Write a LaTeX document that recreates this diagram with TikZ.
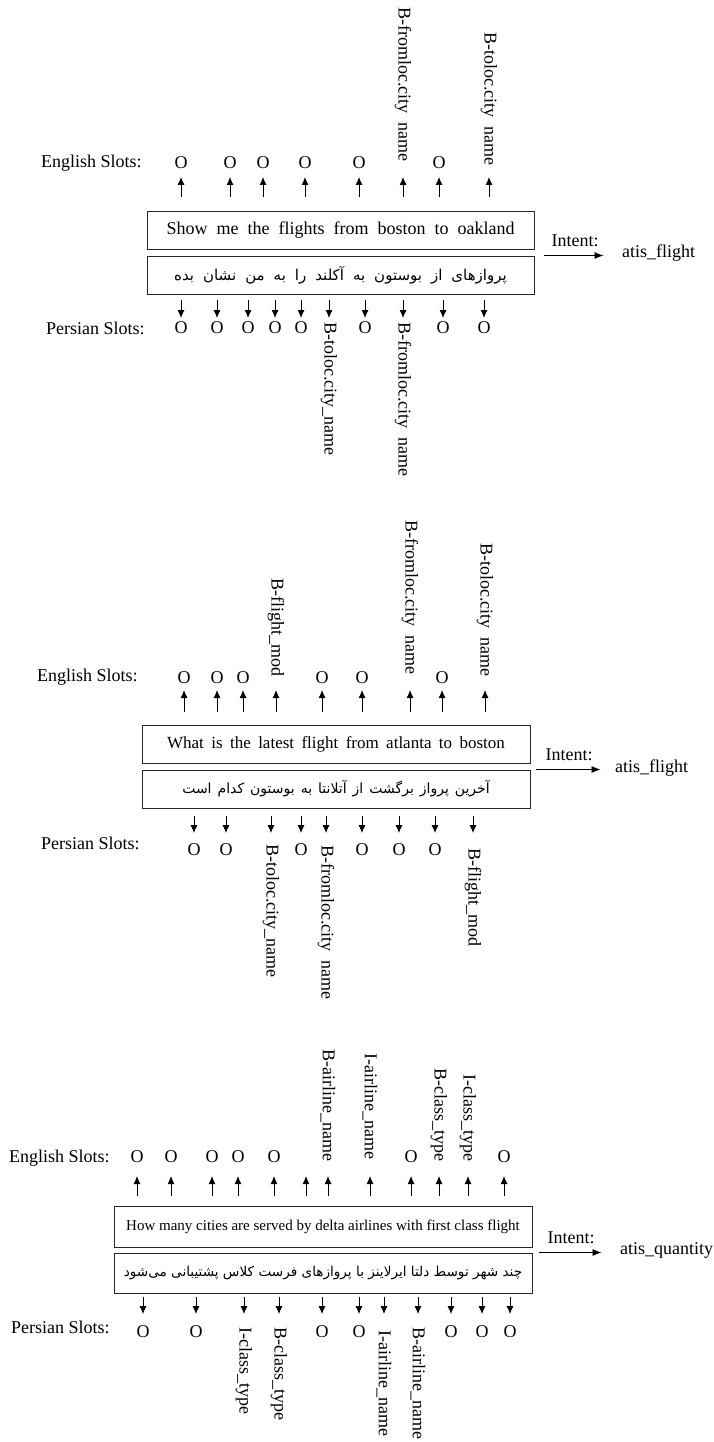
\documentclass[tikz,border=0pt]{standalone}
\usepackage{fontspec}
\setmainfont{Liberation Serif}
\newfontfamily\persianfont[Script=Arabic]{DejaVu Sans}
\TeXXeTstate=1
\usetikzlibrary{arrows.meta, positioning}

\tikzset{
  lbl/.style={font=\fontsize{18}{20}\selectfont, inner sep=0pt},
  tagup/.style={lbl, rotate=-90, anchor=east},
  tagdn/.style={lbl, rotate=-90, anchor=west},
  sent/.style={draw=black!85, line width=1pt, inner sep=0pt},
  uparr/.style={line width=.9pt, -{Latex[length=8pt,width=7pt]}},
  dnarr/.style={line width=.9pt, -{Latex[length=8pt,width=7pt]}},
  intarr/.style={line width=.9pt, -{Latex[length=9pt,width=7pt]}},
}

\begin{document}
\begin{tikzpicture}[x=1pt, y=-1pt]
\useasboundingbox (0,0) rectangle (713,1442);

% ===== show me the flights =====
\node[lbl, anchor=west] (enA) at (41,163) {English Slots:};
\foreach \x [count=\i] in {181,230,263,305,359,439}
  \node[lbl] (oA\i) at (\x,163) {O};
\node[tagup] (tA1) at (403,162) {B-fromloc.city\ \ name};
\node[tagup] (tA2) at (489,166) {B-toloc.city\ \ name};
\foreach \x [count=\i] in {181,230,263,305,359,403,439,489}{
  \coordinate (uA\i) at (\x,197);
  \draw[uparr] (uA\i) -- ++(0,-20);
}

\node[sent, minimum width=387pt, minimum height=38pt, font=\fontsize{18}{20}\selectfont]
  (sA) at (340.5,230) {\spaceskip=9pt Show me the flights from boston to oakland};
\node[sent, minimum width=387pt, minimum height=38pt, font=\persianfont\fontsize{15}{17}\selectfont]
  (fA) at (340.5,275) {\spaceskip=9pt\beginR پروازهای از بوستون به آکلند را به من نشان بده\endR};

\node[lbl] (iA) at (575,241) {Intent:};
\node[lbl, anchor=west] (gA) at (622,253) {atis\_flight};
\draw[intarr] ([xshift=9pt]fA.north east) -- ++(60,0);

\node[lbl, anchor=west] (pA) at (46,328) {Persian Slots:};
\foreach \x [count=\i] in {181,217,248,275,301,365,443,484}
  \node[lbl] (qA\i) at (\x,328) {O};
\node[tagdn] (rA1) at (329,322) {B-toloc.city\_name};
\node[tagdn] (rA2) at (403,322) {B-fromloc.city\ \ name};
\foreach \x [count=\i] in {181,217,248,275,301,329,365,403,443,484}{
  \coordinate (dA\i) at (\x,300);
  \draw[dnarr] (dA\i) -- ++(0,18);
}

% ===== what is the latest flight =====
\node[lbl, anchor=west] (enB) at (37,677) {English Slots:};
\foreach \x [count=\i] in {184,217,243,322,362,442}
  \node[lbl] (oB\i) at (\x,678) {O};
\node[tagup] (tB1) at (276,677) {B-flight\_mod};
\node[tagup] (tB2) at (410,675) {B-fromloc.city\ \ name};
\node[tagup] (tB3) at (485,677) {B-toloc.city\ \ name};
\foreach \x [count=\i] in {184,217,243,276,322,362,410,442,485}{
  \coordinate (uB\i) at (\x,712);
  \draw[uparr] (uB\i) -- ++(0,-22);
}

\node[sent, minimum width=388pt, minimum height=38pt, font=\fontsize{17}{19}\selectfont]
  (sB) at (336,744) {\spaceskip=7.4pt What is the latest flight from atlanta to boston};
\node[sent, minimum width=388pt, minimum height=38pt, font=\persianfont\fontsize{14}{16}\selectfont]
  (fB) at (336,789) {\spaceskip=6pt\beginR آخرین پرواز برگشت از آتلانتا به بوستون کدام است\endR};

\node[lbl] (iB) at (569,755) {Intent:};
\node[lbl, anchor=west] (gB) at (615,768) {atis\_flight};
\draw[intarr] ([xshift=5pt]fB.north east) -- ++(65,0);

\node[lbl, anchor=west] (pB) at (41,843) {Persian Slots:};
\foreach \x [count=\i] in {194,226,301,362,399,435}
  \node[lbl] (qB\i) at (\x,850) {O};
\node[tagdn] (rB1) at (271,844) {B-toloc.city\_name};
\node[tagdn] (rB2) at (326,845) {B-fromloc.city\ \ name};
\node[tagdn] (rB3) at (473,848) {B-flight\_mod};
\foreach \x [count=\i] in {194,226,271,301,326,362,399,435,473}{
  \coordinate (dB\i) at (\x,816);
  \draw[dnarr] (dB\i) -- ++(0,17);
}

% ===== how many cities =====
\node[lbl, anchor=west] (enC) at (9,1158) {English Slots:};
\foreach \x [count=\i] in {137,171,212,238,274,411,504}
  \node[lbl] (oC\i) at (\x,1157) {O};
\node[tagup] (tC1) at (328,1162) {B-airline\_name};
\node[tagup] (tC2) at (370,1160) {I-airline\_name};
\node[tagup] (tC3) at (439,1162) {B-class\_type};
\node[tagup] (tC4) at (468,1162) {I-class\_type};
\foreach \x [count=\i] in {137,171,212,238,274,306,328,370,411,439,468,504}{
  \coordinate (uC\i) at (\x,1196);
  \draw[uparr] (uC\i) -- ++(0,-20);
}

\node[sent, minimum width=418pt, minimum height=41pt, font=\fontsize{15}{17}\selectfont]
  (sC) at (323,1226.5) {How many cities are served by delta airlines with first class flight};
\node[sent, minimum width=418pt, minimum height=40pt, font=\persianfont\fontsize{13.6}{16}\selectfont]
  (fC) at (323,1273) {\beginR چند شهر توسط دلتا ایرلاینز با پروازهای فرست کلاس پشتیبانی می‌شود\endR};

\node[lbl] (iC) at (571,1238) {Intent:};
\node[lbl, anchor=west] (gC) at (620,1250) {atis\_quantity};
\draw[intarr] ([xshift=6pt]fC.north east) -- ++(63,0);

\node[lbl, anchor=west] (pC) at (11,1327) {Persian Slots:};
\foreach \x [count=\i] in {143,196,322,359,451,482,510}
  \node[lbl] (qC\i) at (\x,1332) {O};
\node[tagdn] (rC1) at (244,1327) {I-class\_type};
\node[tagdn] (rC2) at (279,1327) {B-class\_type};
\node[tagdn] (rC3) at (384,1330) {I-airline\_name};
\node[tagdn] (rC4) at (418,1327) {B-airline\_name};
\foreach \x [count=\i] in {143,196,244,279,322,359,384,418,451,482,510}{
  \coordinate (dC\i) at (\x,1297);
  \draw[dnarr] (dC\i) -- ++(0,17);
}
\end{tikzpicture}
\end{document}
